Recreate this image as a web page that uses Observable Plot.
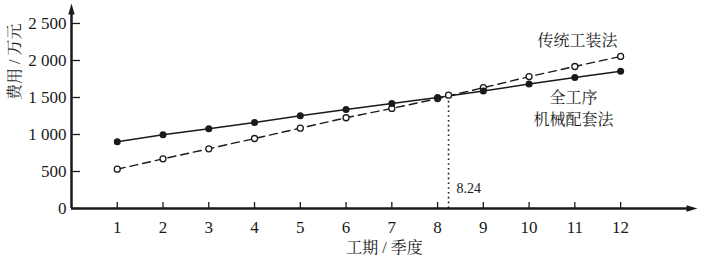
<!DOCTYPE html>
<html>
<head>
<meta charset="utf-8">
<script src="https://cdn.jsdelivr.net/npm/d3@7"></script>
<script src="https://cdn.jsdelivr.net/npm/@observablehq/plot@0.6"></script>
<style>
  html, body { margin: 0; padding: 0; background: #fff; }
</style>
</head>
<body>
<div id="chart"></div>
<script>
// ---- data ----
const quarters = [1, 2, 3, 4, 5, 6, 7, 8, 9, 10, 11, 12];
const mechanized = [901, 997, 1077, 1162, 1252, 1338, 1418, 1500, 1587, 1682, 1769, 1855]; // 全工序机械配套法
const traditional = [531, 671, 807, 946, 1085, 1226, 1352, 1485, 1632, 1782, 1919, 2055]; // 传统工装法
const yTicks = [0, 500, 1000, 1500, 2000, 2500];
const crossX = 8.24;
const crossY = 1531;
const crossLabel = "8.24";
const xTitle = "工期 / 季度";
const yTitle = "费用 / 万元";
const labelTraditional = "传统工装法";
const labelMech1 = "全工序";
const labelMech2 = "机械配套法";

const xMax = 13.68, yMax = 2770;

const mechRows = quarters.map((q, i) => ({q, v: mechanized[i]}));
const tradRows = quarters.map((q, i) => ({q, v: traditional[i]}));

const fmt = n => n >= 1000 ? `${Math.floor(n / 1000)} ${String(n % 1000).padStart(3, "0")}` : String(n);

const arrowRight = {draw(ctx) { ctx.moveTo(0, 0); ctx.lineTo(-11, -3.2); ctx.lineTo(-11, 3.2); ctx.closePath(); }};
const arrowUp = {draw(ctx) { ctx.moveTo(0, 0); ctx.lineTo(-3.2, 11); ctx.lineTo(3.2, 11); ctx.closePath(); }};

const ink = "#1a1a1a";
const font = "'Liberation Serif', 'Noto Serif CJK SC', 'Noto Sans CJK SC', serif";

const chart = Plot.plot({
  width: 707,
  height: 257,
  marginLeft: 71,
  marginRight: 10,
  marginTop: 3,
  marginBottom: 49,
  x: {domain: [0, xMax]},
  y: {domain: [0, yMax]},
  style: {fontFamily: font, fontSize: "16px", color: ink, background: "#fff"},
  marks: [
    // ticks (inward) and labels
    Plot.axisX(quarters, {tickSize: -6, tickFormat: () => "", label: null, strokeWidth: 1.3}),
    Plot.axisX(quarters, {tickSize: 0, tickPadding: 12, label: null, fontSize: 17}),
    Plot.axisY(yTicks, {tickSize: -9, tickFormat: () => "", label: null, strokeWidth: 1.3}),
    Plot.axisY(yTicks, {tickSize: 0, tickPadding: 5, tickFormat: fmt, label: null, fontSize: 17}),
    // axis lines with arrowheads
    Plot.ruleY([0], {x1: 0, x2: xMax - 0.15, stroke: ink, strokeWidth: 2.5}),
    Plot.ruleX([0], {y1: 0, y2: yMax - 80, stroke: ink, strokeWidth: 2.5}),
    Plot.dot([0], {x: xMax, y: 0, symbol: arrowRight, fill: ink, stroke: null}),
    Plot.dot([0], {x: 0, y: yMax, symbol: arrowUp, fill: ink, stroke: null}),
    // dotted crossover line
    Plot.ruleX([crossX], {y1: 0, y2: crossY, stroke: ink, strokeWidth: 1.6, strokeDasharray: "1.6,3.2"}),
    // traditional (dashed, open circles)
    Plot.line(tradRows, {x: "q", y: "v", stroke: ink, strokeWidth: 1.4, strokeDasharray: "8,5"}),
    Plot.dot(tradRows, {x: "q", y: "v", r: 3, fill: "#fff", stroke: ink, strokeWidth: 1.3}),
    // mechanized (solid, filled dots)
    Plot.line(mechRows, {x: "q", y: "v", stroke: ink, strokeWidth: 1.5}),
    Plot.dot(mechRows, {x: "q", y: "v", r: 3.5, fill: ink, stroke: null}),
    // crossover marker
    Plot.dot([0], {x: crossX, y: crossY, r: 3, fill: "#fff", stroke: ink, strokeWidth: 1.3}),
    Plot.text([crossLabel], {x: crossX, frameAnchor: "bottom", dx: 8, dy: -16, textAnchor: "start", fontSize: 14, fill: ink}),
    // series labels
    Plot.text([labelTraditional], {x: 11.06, y: 2270, fontSize: 16, fill: ink}),
    Plot.text([labelMech1], {x: 10.97, y: 1500, fontSize: 16, fill: ink}),
    Plot.text([labelMech2], {x: 10.97, y: 1203, fontSize: 16, fill: ink}),
    // axis titles
    Plot.text([xTitle], {frameAnchor: "bottom", dy: 44, fontSize: 16, fill: ink}),
    Plot.text([yTitle], {frameAnchor: "left", dx: -57, dy: -6, rotate: -90, fontSize: 16, fill: ink})
  ]
});
document.getElementById("chart").append(chart);
</script>
</body>
</html>
